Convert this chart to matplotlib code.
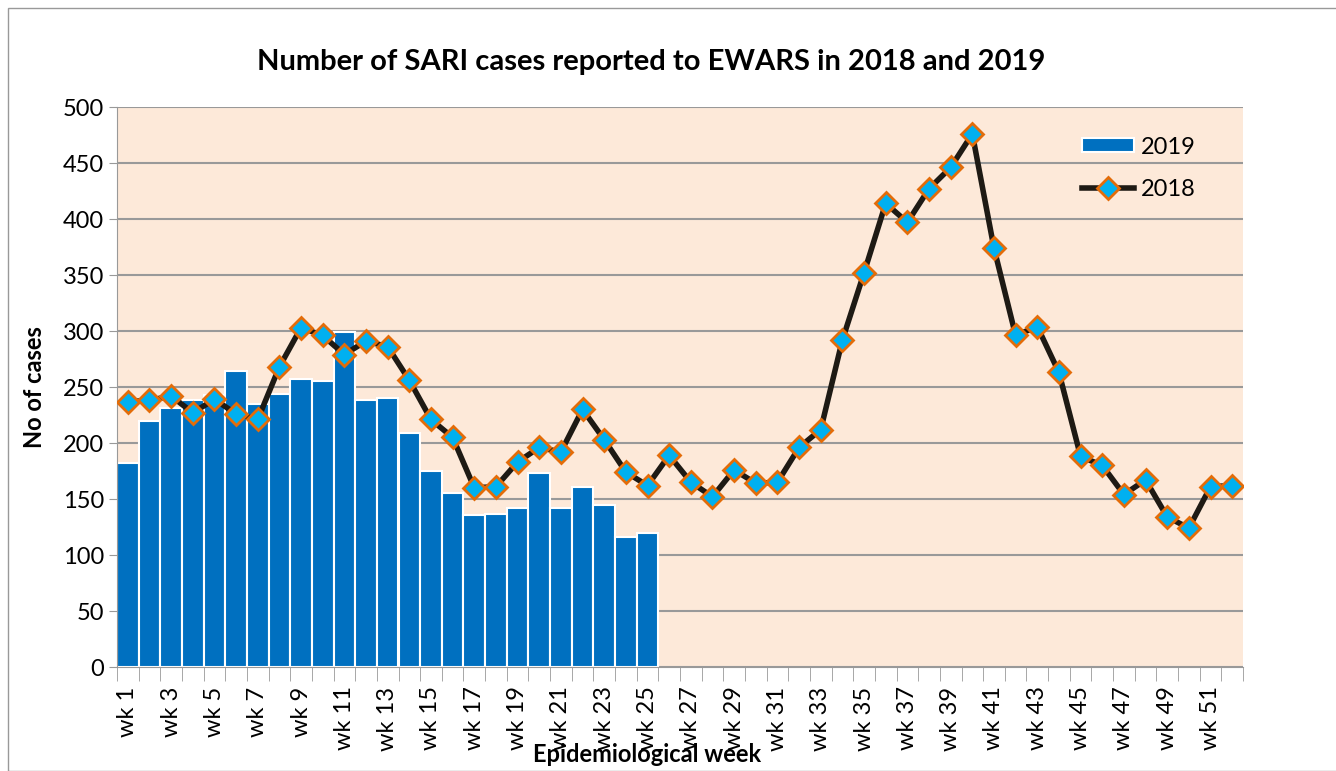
import numpy as np
import matplotlib
matplotlib.use("Agg")
import matplotlib.pyplot as plt
from matplotlib.patches import Rectangle
from matplotlib.ticker import FixedLocator

plt.rcParams['font.family'] = ['Lato', 'DejaVu Sans']

weeks = list(range(1, 53))
tick_labels = ["wk %d" % w for w in weeks]

cases_2019 = [182, 220, 231, 238, 243, 264, 235, 244, 257, 255, 299, 238, 240,
              209, 175, 155, 136, 137, 142, 173, 142, 161, 145, 116, 120]

cases_2018 = [237, 238, 242, 227, 239, 226, 221, 268, 303, 296, 279, 291, 286,
              256, 221, 205, 160, 161, 183, 196, 192, 230, 203, 174, 162, 189,
              165, 152, 176, 164, 165, 196, 212, 292, 352, 414, 397, 427, 446,
              476, 374, 296, 304, 263, 188, 180, 154, 167, 134, 124, 161, 162]

fig = plt.figure(figsize=(13.36, 7.71), dpi=100)
ax = fig.add_axes([117 / 1336, 1 - 667 / 771, (1243 - 117) / 1336, (667 - 107) / 771])

# outer chart frame
fig.patches.append(Rectangle((8 / 1336, 0), 1.2, 1 - 8 / 771, transform=fig.transFigure,
                             fill=False, edgecolor='#999999', linewidth=1))

ax.set_facecolor('#FDE9D9')
bars = ax.bar(weeks[:len(cases_2019)], cases_2019, width=1.0, color='#0070C0',
              edgecolor='white', linewidth=1.5, label='2019', zorder=2)
line, = ax.plot(weeks, cases_2018, color='#1E1A14', linewidth=4, marker='D', markersize=11,
                markerfacecolor='#00B0F0', markeredgecolor='#E36C09', markeredgewidth=2,
                label='2018', zorder=3)

ax.set_xlim(0.5, 52.5)
ax.set_ylim(0, 500)
ax.set_yticks(np.arange(0, 501, 50))
ax.yaxis.grid(True, color='#999999', linewidth=1.5, zorder=0)
ax.set_axisbelow(True)

ax.set_xticks(weeks[::2])
ax.set_xticklabels(tick_labels[::2], rotation=90)
ax.xaxis.set_minor_locator(FixedLocator(np.arange(0.5, 53, 1)))
ax.tick_params(axis='x', which='major', length=0, labelsize=17, pad=14)
ax.tick_params(axis='x', which='minor', length=10, color='#999999', direction='out')
ax.tick_params(axis='y', labelsize=17, length=6, color='#999999')

for s in ['top', 'right']:
    ax.spines[s].set_visible(False)
for s in ['left', 'bottom']:
    ax.spines[s].set_color('#999999')

fig.text(651 / 1336, 1 - 62 / 771, 'Number of SARI cases reported to EWARS in 2018 and 2019',
         fontsize=21, fontweight='bold', ha='center', va='center')
ax.set_ylabel('No of cases', fontsize=17, fontweight='bold', labelpad=12)
fig.text(647 / 1336, 1 - 755 / 771, 'Epidemiological week', fontsize=17,
         fontweight='bold', ha='center', va='center')

ax.legend([bars, line], ['2019', '2018'], loc='upper left',
          bbox_to_anchor=(0.838, 0.985),
          frameon=False, fontsize=17, handlelength=2.2, handleheight=0.55,
          handletextpad=0.3, labelspacing=0.9)

fig.savefig('out.png', dpi=100)
